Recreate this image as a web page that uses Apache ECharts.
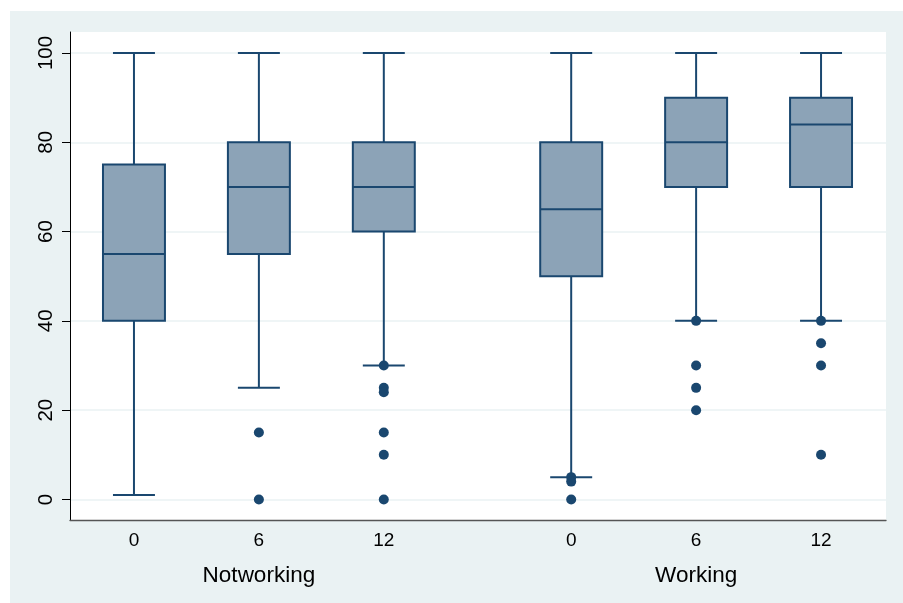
<!DOCTYPE html>
<html>
<head>
<meta charset="utf-8">
<script src="https://cdn.jsdelivr.net/npm/echarts@6/dist/echarts.min.js"></script>
<style>
html,body{margin:0;padding:0;background:#ffffff;}
#chart{position:absolute;left:10px;top:11px;width:893px;height:592px;}
</style>
</head>
<body>
<div id="chart"></div>
<script>
// ---- data ----
var groups = ['Notworking', 'Working'];
var categories = ['0', '6', '12'];
// [low whisker, Q1, median, Q3, high whisker] for each group x category
var notworkingBoxes = [
  [1, 40, 55, 75, 100],
  [25, 55, 70, 80, 100],
  [30, 60, 70, 80, 100]
];
var workingBoxes = [
  [5, 50, 65, 80, 100],
  [40, 70, 80, 90, 100],
  [40, 70, 84, 90, 100]
];
var notworkingOutliers = [
  [],
  [15, 0],
  [30, 25, 24, 15, 10, 0]
];
var workingOutliers = [
  [5, 4, 0],
  [40, 30, 25, 20],
  [40, 35, 30, 10]
];
var yTicks = [0, 20, 40, 60, 80, 100];

// ---- layout of slots (group gap = 1.5 slot) ----
function slotPos(g, c) { return g * 3.5 + c + 1; }

var boxData = [];
var outlierData = [];
var tickPos = [], tickLab = {};
var groupPos = [], groupLab = {};
[notworkingBoxes, workingBoxes].forEach(function (boxes, g) {
  var outs = [notworkingOutliers, workingOutliers][g];
  boxes.forEach(function (b, c) {
    var x = slotPos(g, c);
    boxData.push([x].concat(b));
    outs[c].forEach(function (v) { outlierData.push([x, v]); });
    tickPos.push(x); tickLab[x] = categories[c];
  });
  var gp = slotPos(g, 1);
  groupPos.push(gp); groupLab[gp] = groups[g];
});

var NAVY = '#1a476f';
var FILL = '#8ca3b7';
var FONT = 'Liberation Sans, Arial, sans-serif';

var chart = echarts.init(document.getElementById('chart'), null, {renderer: 'canvas'});
chart.setOption({
  backgroundColor: '#eaf2f3',
  animation: false,
  grid: {left: 60, top: 21, right: 17, bottom: 83, show: true, backgroundColor: '#ffffff', borderWidth: 0},
  xAxis: [{
    type: 'value', min: 0.488, max: 7.02,
    axisLine: {show: true, onZero: false, lineStyle: {color: '#555555', width: 1.3}},
    axisTick: {show: false},
    splitLine: {show: false},
    axisLabel: {
      customValues: tickPos, margin: 11,
      color: '#000', fontSize: 19, fontFamily: FONT,
      formatter: function (v) { return tickLab[v] || ''; }
    }
  }, {
    type: 'value', min: 0.488, max: 7.02, position: 'bottom',
    axisLine: {show: false}, axisTick: {show: false}, splitLine: {show: false},
    axisLabel: {
      customValues: groupPos, margin: 44,
      color: '#000', fontSize: 22.5, fontFamily: FONT,
      formatter: function (v) { return groupLab[v] || ''; }
    }
  }],
  yAxis: {
    type: 'value', min: -4.6, max: 104.7,
    axisLine: {show: true, lineStyle: {color: '#000', width: 1}},
    axisTick: {show: true, length: 8, customValues: yTicks, lineStyle: {color: '#000', width: 1}},
    splitLine: {show: true, lineStyle: {color: '#eaf2f3', width: 1.5}},
    axisLabel: {
      customValues: yTicks, rotate: 90, margin: 13,
      color: '#000', fontSize: 20.5, fontFamily: FONT
    }
  },
  series: [{
    type: 'custom',
    data: boxData,
    encode: {x: 0, y: [1, 2, 3, 4, 5]},
    renderItem: function (params, api) {
      var x = api.value(0);
      var lo = api.coord([x, api.value(1)]);
      var q1 = api.coord([x, api.value(2)]);
      var md = api.coord([x, api.value(3)]);
      var q3 = api.coord([x, api.value(4)]);
      var hi = api.coord([x, api.value(5)]);
      var bw = api.size([0.496, 0])[0];
      var cw = api.size([0.336, 0])[0];
      var cx = lo[0];
      var ls = {stroke: NAVY, lineWidth: 2};
      return {
        type: 'group',
        children: [
          {type: 'line', shape: {x1: cx, y1: hi[1], x2: cx, y2: q3[1]}, style: ls},
          {type: 'line', shape: {x1: cx, y1: q1[1], x2: cx, y2: lo[1]}, style: ls},
          {type: 'line', shape: {x1: cx - cw / 2, y1: hi[1], x2: cx + cw / 2, y2: hi[1]}, style: ls},
          {type: 'line', shape: {x1: cx - cw / 2, y1: lo[1], x2: cx + cw / 2, y2: lo[1]}, style: ls},
          {type: 'rect', shape: {x: cx - bw / 2, y: q3[1], width: bw, height: q1[1] - q3[1]},
           style: {fill: FILL, stroke: NAVY, lineWidth: 2}},
          {type: 'line', shape: {x1: cx - bw / 2, y1: md[1], x2: cx + bw / 2, y2: md[1]}, style: ls}
        ]
      };
    }
  }, {
    type: 'scatter',
    data: outlierData,
    symbol: 'circle',
    symbolSize: 10,
    itemStyle: {color: NAVY, opacity: 1},
    z: 5
  }]
});
</script>
</body>
</html>
